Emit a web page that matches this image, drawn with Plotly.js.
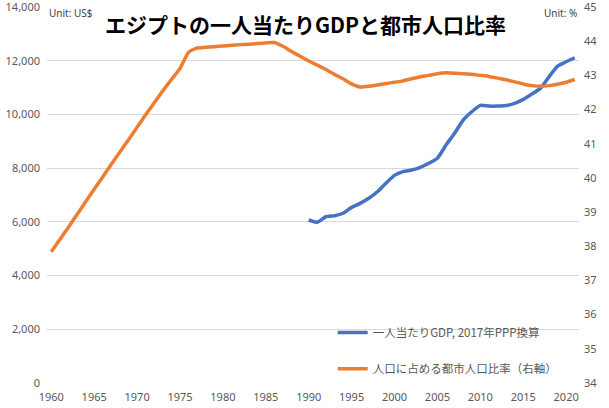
<!DOCTYPE html>
<html>
<head>
<meta charset="utf-8">
<script src="https://cdn.plot.ly/plotly-3.0.1.min.js"></script>
<style>
  html, body { margin: 0; padding: 0; background: #fff; }
  #myDiv { width: 609px; height: 408px; }
</style>
</head>
<body>
<div id="myDiv"></div>
<script>
// ======== DATA ========
var urbanYears = [];
for (var y = 1960; y <= 2021; y++) urbanYears.push(y);

// 人口に占める都市人口比率 (%), 1960-2021
var urbanShare = [
  37.84, 38.20, 38.56, 38.93, 39.30, 39.67, 40.03, 40.40, 40.76, 41.12,
  41.48, 41.85, 42.20, 42.55, 42.88, 43.20, 43.68, 43.80, 43.82, 43.84,
  43.86, 43.88, 43.90, 43.91, 43.93, 43.95, 43.96, 43.85, 43.70, 43.56,
  43.42, 43.30, 43.17, 43.03, 42.90, 42.75, 42.66, 42.68, 42.72, 42.76,
  42.80, 42.84, 42.90, 42.96, 43.00, 43.05, 43.08, 43.06, 43.05, 43.03,
  43.00, 42.97, 42.92, 42.87, 42.81, 42.75, 42.70, 42.68, 42.70, 42.74,
  42.80, 42.88
];

var gdpYears = [];
for (var g = 1990; g <= 2021; g++) gdpYears.push(g);

// 一人当たりGDP, 2017年PPP換算 (US$), 1990-2021
var gdpPerCapita = [
  6070, 5985, 6190, 6230, 6320, 6540, 6690, 6880, 7120, 7440,
  7730, 7870, 7930, 8030, 8180, 8370, 8860, 9300, 9790, 10100,
  10340, 10310, 10310, 10330, 10410, 10560, 10760, 10970, 11400, 11800,
  11960, 12110
];

var xTicks = [1960, 1965, 1970, 1975, 1980, 1985, 1990, 1995, 2000, 2005, 2010, 2015, 2020];
var gdpTicks = [0, 2000, 4000, 6000, 8000, 10000, 12000, 14000];
var shareTicks = [34, 35, 36, 37, 38, 39, 40, 41, 42, 43, 44, 45];

// ======== PLOTLY ========
var tickFont = {family: 'Noto Sans, sans-serif', size: 11, color: '#595959'};

var plotData = [
  {
    x: gdpYears,
    y: gdpPerCapita,
    type: 'scatter',
    mode: 'lines',
    name: '一人当たりGDP, 2017年PPP換算',
    line: {color: '#4472C4', width: 3.5, shape: 'spline', smoothing: 0.5},
    legend: 'legend'
  },
  {
    x: urbanYears,
    y: urbanShare,
    type: 'scatter',
    mode: 'lines',
    name: '人口に占める都市人口比率（右軸）',
    yaxis: 'y2',
    line: {color: '#ED7D31', width: 3.5, shape: 'spline', smoothing: 0.5},
    legend: 'legend2'
  }
];

var legendFont = {family: 'Noto Sans CJK JP, sans-serif', size: 11.5, color: '#595959'};

var layout = {
  width: 609,
  height: 408,
  margin: {l: 47, r: 30, t: 7, b: 25},
  paper_bgcolor: '#ffffff',
  plot_bgcolor: '#ffffff',
  showlegend: true,
  xaxis: {
    range: [1959.5, 2021.5],
    tickvals: xTicks,
    ticktext: xTicks.map(String),
    showgrid: false,
    zeroline: false,
    showline: false,
    ticks: '',
    ticklabelstandoff: 6,
    tickfont: tickFont
  },
  yaxis: {
    range: [0, 14000.5],
    tickvals: gdpTicks,
    ticktext: gdpTicks.map(function(v) { return v.toLocaleString('en-US'); }),
    gridcolor: '#d9d9d9',
    gridwidth: 1,
    zeroline: false,
    ticks: '',
    ticklabelstandoff: 6,
    ticklabeloverflow: 'allow',
    tickfont: tickFont
  },
  yaxis2: {
    overlaying: 'y',
    side: 'right',
    range: [34, 45.0005],
    tickvals: shareTicks,
    ticktext: shareTicks.map(String),
    showgrid: false,
    zeroline: false,
    ticks: '',
    ticklabelstandoff: 4,
    ticklabeloverflow: 'allow',
    tickfont: tickFont
  },
  legend: {
    x: 0.537, y: 0.134, xanchor: 'left', yanchor: 'middle',
    bgcolor: 'rgba(0,0,0,0)',
    itemwidth: 30,
    font: legendFont
  },
  legend2: {
    x: 0.537, y: 0.038, xanchor: 'left', yanchor: 'middle',
    bgcolor: 'rgba(0,0,0,0)',
    itemwidth: 30,
    font: legendFont
  },
  annotations: [
    {
      text: '<b>エジプトの一人当たりGDPと都市人口比率</b>',
      xref: 'paper', yref: 'paper', x: 0.485, y: 1.0, yshift: -17,
      xanchor: 'center', yanchor: 'middle', showarrow: false,
      font: {family: 'Noto Sans CJK JP, sans-serif', size: 21, color: '#000000'}
    },
    {
      text: 'Unit: US$',
      xref: 'paper', yref: 'paper', x: 0.0, y: 1.0, yshift: -6,
      xanchor: 'left', yanchor: 'middle', showarrow: false,
      font: {family: 'Noto Sans, sans-serif', size: 10, color: '#404040'}
    },
    {
      text: 'Unit: %',
      xref: 'paper', yref: 'paper', x: 1.0, y: 1.0, yshift: -6,
      xanchor: 'right', yanchor: 'middle', showarrow: false,
      font: {family: 'Noto Sans, sans-serif', size: 10, color: '#404040'}
    }
  ]
};

var config = {displayModeBar: false, staticPlot: true};

Plotly.newPlot('myDiv', plotData, layout, config);
</script>
</body>
</html>
